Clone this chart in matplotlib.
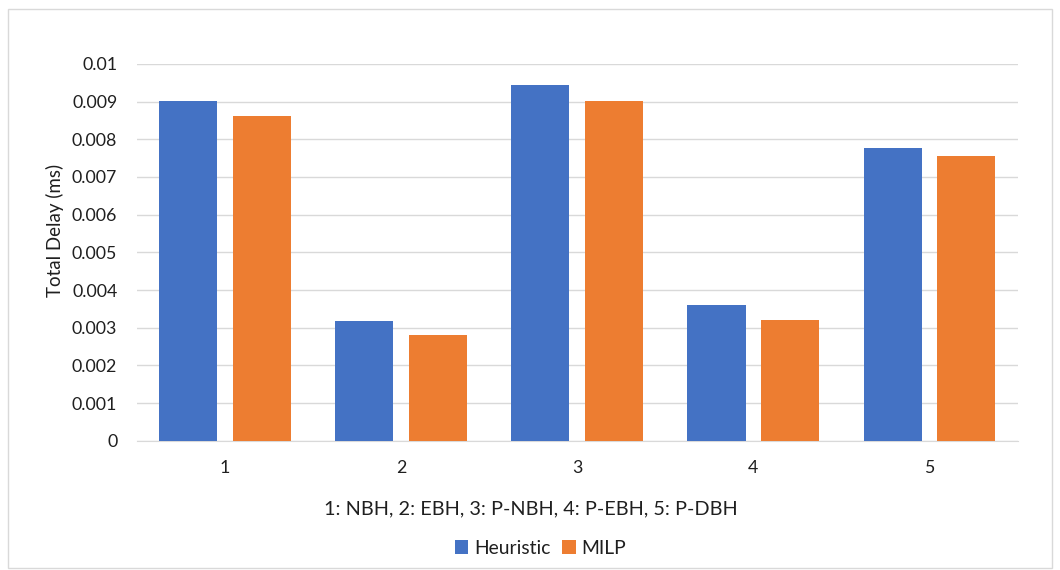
import numpy as np
import matplotlib.pyplot as plt
from matplotlib.patches import Rectangle

categories = ['1', '2', '3', '4', '5']
heuristic = [0.00903, 0.00319, 0.00943, 0.00359, 0.00776]
milp = [0.00862, 0.00280, 0.00903, 0.00321, 0.00757]
yticks = [0, 0.001, 0.002, 0.003, 0.004, 0.005, 0.006, 0.007, 0.008, 0.009, 0.01]
ytick_labels = ['0', '0.001', '0.002', '0.003', '0.004', '0.005', '0.006',
                '0.007', '0.008', '0.009', '0.01']

plt.rcParams['font.family'] = ['Lato', 'DejaVu Sans']
txt = '#1f1f1f'

fig = plt.figure(figsize=(10.6, 5.7), dpi=100, facecolor='white')
ax = fig.add_axes([0.129, 0.2268, 0.831, 0.661])

x = np.arange(1, len(categories) + 1)
w = 0.33
off = 0.209
ax.bar(x - off, heuristic, w, color='#4472C4', label='Heuristic', zorder=3)
ax.bar(x + off, milp, w, color='#ED7D31', label='MILP', zorder=3)

ax.set_xlim(0.5, 5.5)
ax.set_ylim(0, 0.01)
ax.set_yticks(yticks)
ax.set_yticklabels(ytick_labels)
ax.set_xticks(x)
ax.set_xticklabels(categories)
ax.yaxis.grid(True, color='#D9D9D9', linewidth=1, zorder=0)
for s in ['top', 'right', 'left']:
    ax.spines[s].set_visible(False)
ax.spines['bottom'].set_color('#D9D9D9')
ax.tick_params(axis='both', length=0, labelsize=12.8, colors=txt)
ax.tick_params(axis='x', pad=14)
ax.tick_params(axis='y', pad=14)

ax.set_ylabel('Total Delay (ms)', fontsize=13.5, color=txt)
ax.yaxis.set_label_coords(-0.083, 0.557)

fig.text(0.501, 0.107, '1: NBH, 2: EBH, 3: P-NBH, 4: P-EBH, 5: P-DBH',
         ha='center', va='center', fontsize=14.3, color=txt)

fig.legend(loc='center', bbox_to_anchor=(0.51, 0.038), ncol=2, frameon=False,
           fontsize=13.9, handlelength=0.7, handleheight=0.7, handletextpad=0.3,
           columnspacing=0.6, labelcolor=txt)

fig.patches.append(Rectangle((0.008, 0.004), 0.984, 0.98, transform=fig.transFigure,
                             fill=False, edgecolor='#D9D9D9', linewidth=1))

fig.savefig('out.png', dpi=100, facecolor='white')
